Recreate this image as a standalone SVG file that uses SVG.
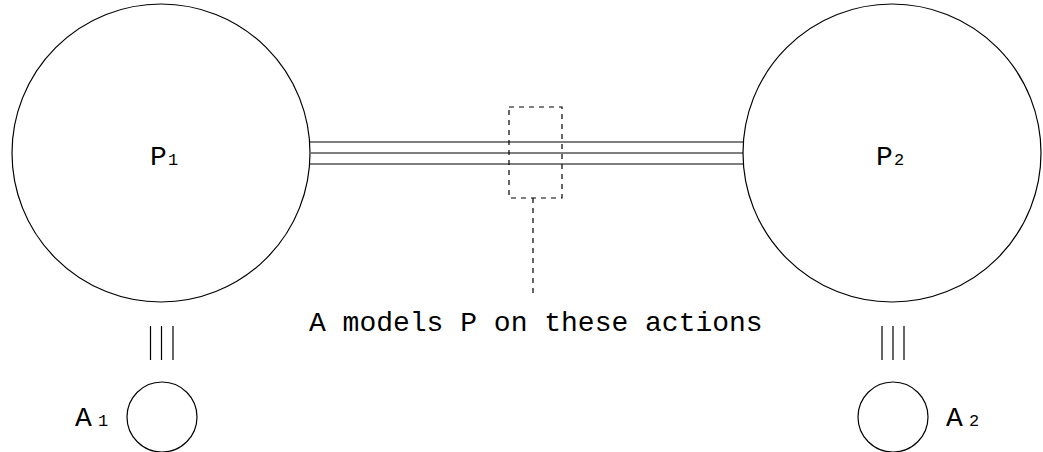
<svg xmlns="http://www.w3.org/2000/svg" width="1043" height="452" viewBox="0 0 1043 452">
<style>
.s{fill:none;stroke:#000;stroke-width:1.2}
.d{fill:none;stroke:#000;stroke-width:1.2;stroke-dasharray:5,5}
.t{font-family:"Liberation Mono","Courier New",monospace;font-size:28px;fill:#000}
.sub{font-family:"Liberation Mono","Courier New",monospace;font-size:17px;fill:#000}
</style>
<rect width="1043" height="452" fill="#fff"/>
<g id="connectors">
<line class="s" x1="310" y1="142" x2="744" y2="142"/>
<line class="s" x1="311" y1="153" x2="743" y2="153"/>
<line class="s" x1="310" y1="164" x2="744" y2="164"/>
<line class="s" x1="150.5" y1="326" x2="150.5" y2="360"/>
<line class="s" x1="161.5" y1="326" x2="161.5" y2="360"/>
<line class="s" x1="173" y1="326" x2="173" y2="360"/>
<line class="s" x1="882" y1="326" x2="882" y2="360"/>
<line class="s" x1="893" y1="326" x2="893" y2="360"/>
<line class="s" x1="904" y1="326" x2="904" y2="360"/>
</g>
<g id="P1">
<circle class="s" cx="161" cy="153" r="149"/>
<text class="t" x="150" y="165">P</text><text class="sub" x="168" y="165">1</text>
</g>
<g id="P2">
<circle class="s" cx="892" cy="153" r="149"/>
<text class="t" x="876" y="165">P</text><text class="sub" x="894" y="165">2</text>
</g>
<g id="A1">
<circle class="s" cx="162" cy="417" r="35"/>
<text class="t" x="75" y="426">A</text><text class="sub" x="98" y="426">1</text>
</g>
<g id="A2">
<circle class="s" cx="893" cy="417" r="35"/>
<text class="t" x="946" y="426">A</text><text class="sub" x="969" y="426">2</text>
</g>
<g id="annotation">
<rect class="d" x="509" y="107" width="53" height="91"/>
<line class="d" x1="533" y1="198" x2="533" y2="295"/>
<text class="t" x="309" y="331">A models P on these actions</text>
</g>
</svg>
